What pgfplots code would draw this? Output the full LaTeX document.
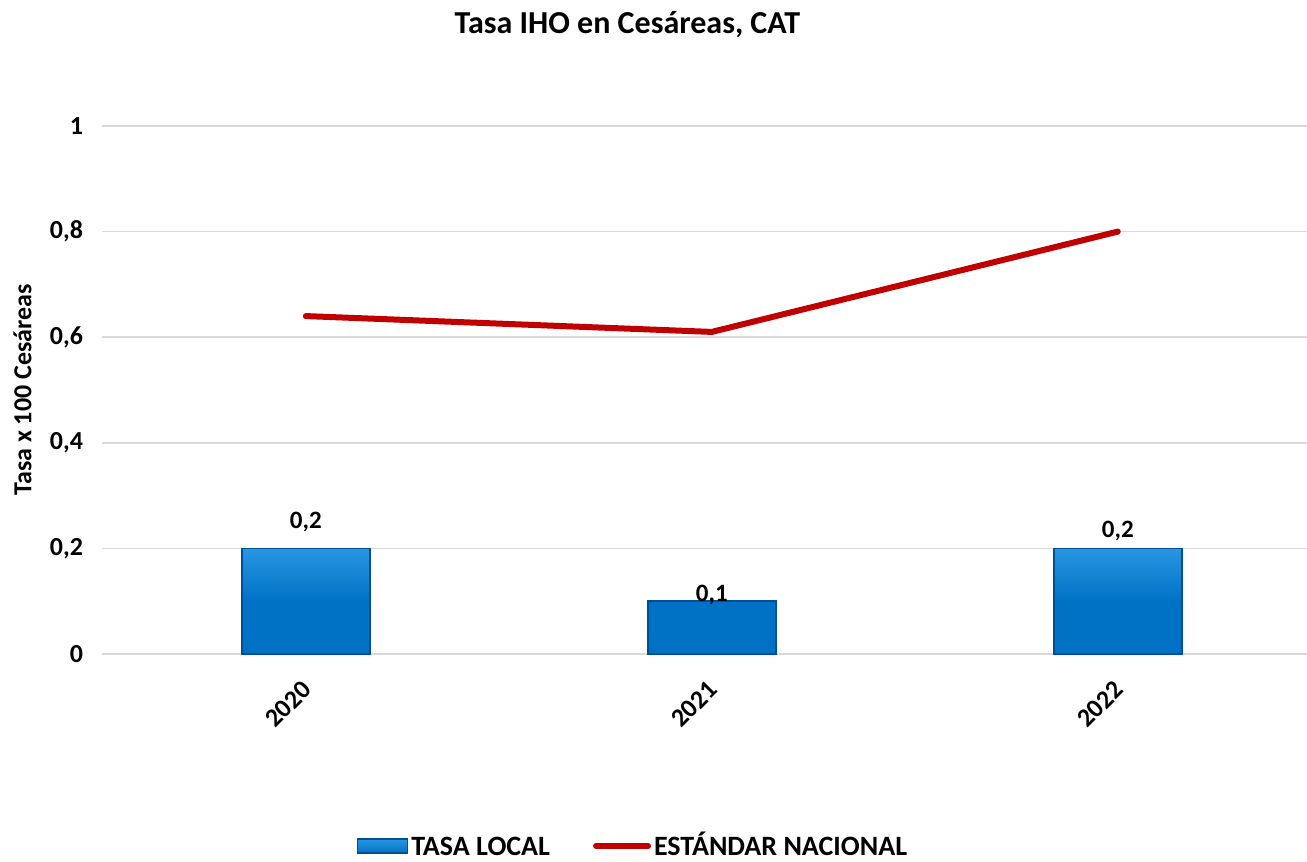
\documentclass[border=0pt]{standalone}
\usepackage{fontspec}
\setmainfont{Carlito}
\usepackage{pgfplots}
\pgfplotsset{compat=1.18}
\usepackage{pgfplotstable}

\definecolor{barblue}{RGB}{0,114,198}
\definecolor{barlight}{RGB}{40,150,225}
\definecolor{baredge}{RGB}{0,78,150}
\definecolor{linered}{RGB}{192,0,0}
\definecolor{gridgray}{RGB}{217,217,217}

\pgfplotstableread{
x y off
0 0.2 13
1 0.1 3
2 0.2 8.5
}\localdata

\begin{document}
\begin{tikzpicture}[font=\bfseries\fontsize{13}{15}\selectfont]
\path[use as bounding box] (-51pt,-104pt) rectangle (602.5pt,327pt);
\begin{axis}[
    scale only axis,
    width=602.5pt,
    height=264pt,
    xmin=-0.502, xmax=2.466,
    ymin=0, ymax=1,
    clip=false,
    axis line style={draw=none},
    major tick length=0pt,
    ymajorgrids,
    grid style={gridgray, line width=0.8pt},
    xtick={0,1,2},
    xticklabels={2020,2021,2022},
    xticklabel style={rotate=45, anchor=north east, yshift=-3.6pt, xshift=-7.3pt,
        font=\bfseries\fontsize{13}{15}\selectfont},
    ytick={0,0.2,0.4,0.6,0.8,1},
    yticklabel style={xshift=-6pt},
    /pgf/number format/use comma,
    /pgf/number format/fixed,
    /pgf/number format/assume math mode=true,
    ylabel={Tasa x 100 Cesáreas},
    ylabel style={at={(axis description cs:-0.066,0.5)}, anchor=center},
    title={Tasa IHO en Cesáreas, CAT},
    title style={at={(axis description cs:0.436,1)}, anchor=center, yshift=44.5pt,
        font=\bfseries\fontsize{16}{18}\selectfont},
    legend style={at={(axis description cs:0.441,0)}, anchor=center, yshift=-96pt,
        draw=none, fill=none, legend columns=2,
        font=\bfseries\fontsize{14}{16}\selectfont,
        nodes={text height=10pt, text depth=1pt, inner sep=1.5pt},
        /tikz/every even column/.append style={column sep=20pt}},
]
\addplot[ybar, bar width=64pt, top color=barlight, bottom color=barblue,
    middle color=barblue, draw=baredge, line width=0.8pt,
    nodes near coords,
    visualization depends on={\thisrow{off} \as \off},
    every node near coord/.append style={anchor=center, yshift=\off pt, black,
        text height=, text depth=,
        font=\bfseries\fontsize{12.5}{14}\selectfont},
    legend image code/.code={\draw[top color=barlight, bottom color=barblue, draw=baredge] (0pt,-3.5pt) rectangle (25pt,3.5pt);}]
    table[x=x, y=y] {\localdata};
\addplot[color=linered, line width=3pt, mark=none, line cap=round,
    legend image code/.code={\draw[linered, line width=3pt, line cap=round] (0pt,0pt) -- (26pt,0pt);}]
    coordinates {(0,0.64) (1,0.61) (2,0.80)};
\legend{TASA LOCAL, ESTÁNDAR NACIONAL}
\end{axis}
\end{tikzpicture}
\end{document}
